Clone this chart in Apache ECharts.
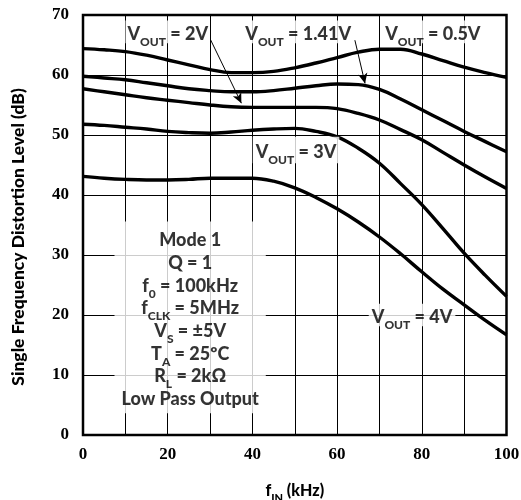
<!DOCTYPE html>
<html><head><meta charset="utf-8">
<script src="https://cdn.jsdelivr.net/npm/echarts@6/dist/echarts.min.js"></script>
<style>html,body{margin:0;padding:0;background:#fff}#c{width:521px;height:500px}</style>
</head><body><div id="c"></div>
<script>
const xs = [0,5,10,15,20,25,30,35,40,45,50,55,60,65,70,75,80,85,90,95,100];
const v05  = [64.4,64.2,63.9,63.3,62.5,61.7,60.9,60.4,60.4,60.6,61.2,62.0,62.9,63.8,64.3,64.3,63.5,62.4,61.3,60.4,59.6];
const v141 = [59.8,59.5,59.2,58.7,58.2,57.7,57.4,57.2,57.2,57.4,57.8,58.2,58.5,58.4,57.6,56.0,54.2,52.4,50.6,48.9,47.2];
const v2   = [57.7,57.2,56.7,56.2,55.8,55.4,55.0,54.7,54.6,54.6,54.6,54.6,54.4,53.6,52.5,50.9,49.2,47.1,45.0,43.0,41.1];
const v3   = [51.8,51.6,51.3,51.0,50.6,50.4,50.3,50.5,50.8,51.0,51.1,50.6,49.7,47.8,45.3,41.9,38.4,34.4,30.3,26.6,23.1];
const v4   = [43.1,42.8,42.6,42.5,42.5,42.6,42.8,42.8,42.8,42.3,41.2,39.6,37.7,35.5,33.0,30.2,27.2,24.3,21.7,19.1,16.7];
const xTicks = [0,20,40,60,80,100];
const yTicks = [0,10,20,30,40,50,60,70];

// annotation anchors (data coordinates)
const lbl2   = [20.0, 67.2];
const lbl141 = [50.8, 67.2];
const lbl05  = [82.6, 67.2];
const lbl3   = [50.3, 47.5];
const lbl4   = [77.7, 20.0];
const boxPos = [25.3, 19.6];
const arrow2   = [[30.1, 65.9],[37.4, 55.3]];
const arrow141 = [[64.2, 65.8],[66.6, 58.6]];

const SANS = 'Lato';
const W = 900;
const rich = {
  m: {fontFamily: SANS, fontWeight: W, fontSize: 18, color: '#000', verticalAlign: 'bottom', lineHeight: 22.7},
  s: {fontFamily: SANS, fontWeight: W, fontSize: 12, color: '#000', verticalAlign: 'bottom', lineHeight: 22.7, padding: [0,0,-5,0]}
};
function vout(v){ return '{m|V}{s|OUT}{m| = ' + v + '}'; }
const boxLines = [
  '{m|Mode 1}',
  '{m|Q = 1}',
  '{m|f}{s|0}{m| = 100kHz}',
  '{m|f}{s|CLK}{m| = 5MHz}',
  '{m|V}{s|S}{m| = ±5V}',
  '{m|T}{s|A}{m| = 25ºC}',
  '{m|R}{s|L}{m| = 2kΩ}',
  '{m|Low Pass Output}'
];

function pairs(ys){ return xs.map((x,i)=>[x, ys[i]]); }
function curve(name, ys){
  return {name, type:'line', data: pairs(ys), smooth: 0.4, symbol:'none',
    lineStyle:{color:'#000', width:3.4}, z:3, silent:true};
}
function lab(pos, text, pad){
  return {value: pos, label: {show:true, position:'inside', formatter: text, rich,
    backgroundColor:'#fff', padding: pad}};
}

const chart = echarts.init(document.getElementById('c'), null, {renderer:'canvas'});
chart.setOption({
  animation:false,
  backgroundColor:'#fff',
  grid:{left:83, right:14.5, top:15, bottom:65, containLabel:false, outerBoundsMode:'none',
    show:true, borderColor:'#000', borderWidth:2.5, backgroundColor:'transparent'},
  xAxis:{type:'value', min:0, max:100, interval:10,
    axisLine:{show:false}, axisTick:{show:false},
    splitLine:{show:true, lineStyle:{color:'#000', width:1}},
    axisLabel:{margin:11, fontFamily:'Liberation Serif', fontWeight:'bold', fontSize:17, color:'#000',
      formatter: v => xTicks.includes(v) ? String(v) : ''},
    name:'{m|f}{s|IN}{m| (kHz)}', nameLocation:'middle', nameGap:44,
    nameTextStyle:{rich:{
      m:{fontFamily:SANS, fontWeight:W, fontSize:16, color:'#000', verticalAlign:'bottom', lineHeight:20},
      s:{fontFamily:SANS, fontWeight:W, fontSize:11, color:'#000', verticalAlign:'bottom', lineHeight:20, padding:[0,0,-5,0]}}}
  },
  yAxis:{type:'value', min:0, max:70, interval:10,
    axisLine:{show:false}, axisTick:{show:false},
    splitLine:{show:true, lineStyle:{color:'#000', width:1}},
    axisLabel:{margin:14, fontFamily:'Liberation Serif', fontWeight:'bold', fontSize:17, color:'#000',
      formatter: v => yTicks.includes(v) ? String(v) : ''},
    name:'Single Frequency Distortion Level (dB)', nameLocation:'middle', nameGap:56,
    nameTextStyle:{fontFamily:SANS, fontWeight:W, fontSize:17.5, color:'#000', padding:[0,24,0,0]}
  },
  series:[
    curve('0.5V', v05),
    curve('1.41V', v141),
    curve('2V', v2),
    curve('3V', v3),
    curve('4V', v4),
    {type:'scatter', symbolSize:0, z:5, silent:true,
      data:[
        lab(lbl2, vout('2V'), [0,2]),
        lab(lbl141, vout('1.41V'), [0,2]),
        lab(lbl05, vout('0.5V'), [0,2]),
        lab(lbl3, vout('3V'), [2,3]),
        lab(lbl4, vout('4V'), [0,3]),
        lab(boxPos, boxLines.join('\n'), [5,7])
      ],
      markLine:{silent:true, symbol:['none','arrow'], symbolSize:[7,10], label:{show:false},
        lineStyle:{color:'#000', width:1, type:'solid'},
        data:[
          [{coord:arrow2[0]},{coord:arrow2[1]}],
          [{coord:arrow141[0]},{coord:arrow141[1]}]
        ]}
    }
  ]
});
</script></body></html>
